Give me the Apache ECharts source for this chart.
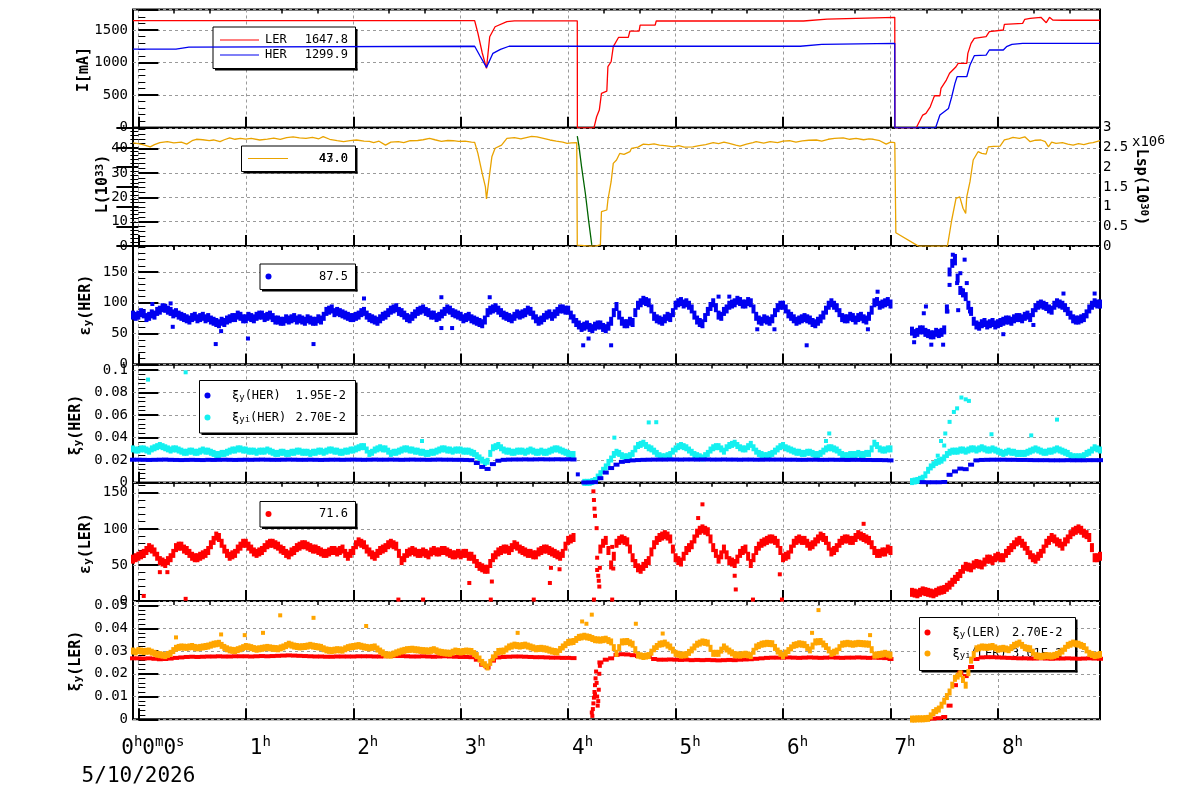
<!DOCTYPE html>
<html><head><meta charset="utf-8">
<script src="https://cdn.jsdelivr.net/npm/echarts@6/dist/echarts.min.js"></script>
<style>html,body{margin:0;padding:0;background:#fff}#c{width:1200px;height:798px}</style>
</head><body><div id="c"></div>
<script>
// ---------------- DATA ----------------
const hourTicks = [0,1,2,3,4,5,6,7,8];
const hourLabels = ['0h0m0s','1h','2h','3h','4h','5h','6h','7h','8h'];
const dateLabel = '5/10/2026';
// sampling grids (hours) for the scatter series: -0.05 .. 8.95 every 0.05 h, and the in-between samples
const timeGrid = Array.from({length:181}, (_, i) => +(-0.05 + i*0.05).toFixed(3));
const timeGridHalf = timeGrid.map(t => +(t + 0.025).toFixed(3));

// I[mA] LER current [h, mA]
const lerCurrent = [[-0.05,1641],[1.5,1642],[3.13,1641],[3.16,1450],[3.2,1150],[3.24,911],[3.27,1396],[3.32,1549],[3.43,1626],[3.5,1640],[4.085,1640],[4.086,0],[4.24,0],[4.265,169],[4.29,272],[4.31,528],[4.36,563],[4.37,936],[4.40,1012],[4.42,1243],[4.47,1387],[4.56,1387],[4.575,1483],[4.66,1483],[4.67,1575],[4.81,1575],[4.82,1637],[6.19,1637],[6.20,1667],[6.41,1667],[6.42,1693],[7.04,1693],[7.041,0],[7.24,0],[7.30,195],[7.33,221],[7.37,322],[7.40,451],[7.41,491],[7.46,491],[7.47,604],[7.52,732],[7.55,835],[7.61,936],[7.63,988],[7.71,988],[7.72,1141],[7.75,1294],[7.78,1371],[7.89,1396],[7.92,1473],[8.05,1499],[8.06,1586],[8.23,1601],[8.25,1663],[8.30,1678],[8.40,1693],[8.45,1611],[8.48,1693],[8.51,1652],[8.6,1648],[8.95,1648]];
// I[mA] HER current [h, mA]
const herCurrent = [[-0.05,1207],[0.35,1207],[0.36,1235],[0.47,1235],[0.48,1245],[3.13,1250],[3.18,1100],[3.24,926],[3.30,1141],[3.37,1202],[3.45,1250],[6.16,1250],[6.17,1279],[6.36,1279],[6.37,1294],[7.04,1294],[7.041,0],[7.42,0],[7.46,195],[7.54,297],[7.57,476],[7.60,681],[7.62,783],[7.71,783],[7.74,962],[7.78,1105],[7.89,1115],[7.92,1192],[8.05,1192],[8.08,1243],[8.13,1279],[8.23,1294],[8.44,1294],[8.45,1270],[8.46,1294],[8.95,1294]];
// L (10^33) [h, value]
const luminosity = [[-0.05,42.3],[0.0,42.0],[0.05,41.5],[0.11,40.7],[0.15,41.6],[0.2,42.4],[0.27,42.8],[0.33,42.3],[0.4,42.6],[0.45,41.8],[0.5,43.2],[0.54,43.8],[0.6,43.6],[0.66,43.2],[0.7,43.5],[0.76,42.8],[0.8,43.6],[0.85,44.4],[0.9,43.8],[0.95,44.2],[1.0,43.9],[1.05,44.2],[1.13,43.5],[1.2,43.9],[1.26,44.3],[1.32,43.8],[1.38,44.5],[1.44,44.8],[1.5,44.4],[1.56,44.2],[1.62,44.6],[1.68,44.0],[1.72,44.9],[1.78,43.8],[1.85,43.2],[1.91,42.8],[1.97,43.2],[2.03,43.5],[2.1,43.0],[2.15,42.9],[2.19,42.4],[2.24,43.0],[2.3,41.4],[2.35,42.6],[2.42,42.8],[2.47,42.4],[2.53,43.2],[2.6,43.3],[2.65,43.6],[2.71,44.2],[2.76,43.6],[2.82,42.9],[2.88,43.3],[2.93,43.2],[2.98,42.9],[3.04,43.0],[3.1,42.6],[3.13,42.5],[3.16,38],[3.2,29.8],[3.23,24.3],[3.24,19.3],[3.27,29.8],[3.29,36.6],[3.32,40.1],[3.38,41.4],[3.43,44.2],[3.5,44.5],[3.56,44.0],[3.62,44.6],[3.66,45.0],[3.71,44.8],[3.77,44.2],[3.83,43.5],[3.89,43.0],[3.95,42.6],[3.99,42.1],[4.03,42.3],[4.08,42.4],[4.085,0.4],[4.15,0.2],[4.2,0.0],[4.25,0.0],[4.3,0.5],[4.31,14.1],[4.36,14.8],[4.37,18.9],[4.40,26.4],[4.42,33.9],[4.45,35.3],[4.48,38.0],[4.52,37.6],[4.575,38.7],[4.59,40.1],[4.65,40.6],[4.70,41.8],[4.75,41.6],[4.8,41.9],[4.85,41.4],[4.9,41.2],[4.98,40.7],[5.03,41.2],[5.08,40.6],[5.16,40.7],[5.22,41.2],[5.28,41.6],[5.35,42.4],[5.4,42.0],[5.45,42.6],[5.5,42.1],[5.56,41.4],[5.6,41.0],[5.66,41.8],[5.72,42.4],[5.75,42.8],[5.82,42.2],[5.88,42.8],[5.95,42.4],[6.0,43.0],[6.06,43.2],[6.12,42.6],[6.18,43.1],[6.24,43.4],[6.31,43.5],[6.36,43.0],[6.42,43.8],[6.48,44.2],[6.56,44.4],[6.62,43.8],[6.68,44.2],[6.75,43.6],[6.8,44.0],[6.84,43.8],[6.9,43.2],[6.96,41.8],[7.0,42.6],[7.04,42.4],[7.05,5.5],[7.26,0],[7.53,0],[7.57,10.7],[7.61,19.6],[7.645,20.2],[7.675,15.5],[7.70,13.4],[7.71,20.2],[7.74,26.4],[7.77,35.3],[7.815,38.7],[7.85,38.0],[7.89,37.7],[7.91,40.7],[7.96,40.9],[8.02,41.0],[8.06,43.5],[8.1,44.0],[8.14,44.6],[8.2,44.2],[8.25,44.8],[8.3,42.8],[8.35,43.4],[8.4,43.5],[8.44,42.8],[8.47,40.7],[8.5,42.6],[8.54,42.1],[8.6,42.4],[8.65,41.8],[8.7,41.4],[8.75,42.0],[8.8,41.6],[8.85,42.2],[8.885,42.4],[8.95,43.2]];
// Lsp (10^30, x10^6) [h, value]
const lspValues = [[4.085,2.79],[4.10,2.55],[4.125,2.01],[4.16,1.34],[4.19,0.66],[4.21,0.24],[4.22,0.03]];

// eps_y(HER) on timeGrid
const emitHER = [80,
 80,82,78,80,88,91,86,84,78,74,76,74,78,76,70,66,68,74,76,78,
 74,76,78,80,78,76,72,70,72,76,74,70,72,70,72,86,90,86,82,78,
 76,80,86,76,72,74,80,88,92,84,76,78,86,90,84,80,78,86,88,82,
 78,76,74,70,66,84,90,88,80,76,78,80,84,86,74,72,80,78,86,90,
 88,74,64,62,60,62,64,58,70,94,70,66,68,96,104,100,78,72,74,76,
 96,102,100,90,72,66,86,100,80,86,96,100,102,98,100,78,70,72,74,92,
 96,82,74,72,76,72,66,74,88,100,92,76,74,76,76,74,78,100,96,100,
 98,null,null,null,54,52,56,50,48,50,56,150,168,120,110,86,64,66,64,68,
 66,70,72,74,76,78,76,92,98,94,88,100,96,86,74,72,76,90,100,98];
// eps_y(HER) on timeGridHalf
const emitHERh = [78,
 84,76,82,86,92,88,82,80,76,72,78,76,74,72,68,70,72,76,80,74,
 78,74,80,76,80,72,70,74,74,72,72,74,70,74,78,88,84,84,80,76,
 78,84,80,74,70,78,84,90,86,80,74,82,88,86,80,76,82,90,84,80,
 74,78,72,68,72,88,92,84,78,74,82,82,88,80,70,76,82,82,90,88,
 80,68,60,64,58,64,60,62,84,80,66,70,84,100,102,90,74,70,78,84,
 100,98,96,80,68,76,94,92,78,90,98,104,98,102,90,72,74,70,84,96,
 90,78,70,74,74,68,70,80,96,96,84,74,78,72,78,72,88,102,98,102,
 null,null,null,null,50,56,52,48,52,52,90,164,140,116,96,70,62,68,66,64,
 68,72,70,76,74,80,84,96,96,90,96,98,92,80,72,74,82,96,98,null];
const emitHERExtra = [[0.13,98],[0.30,99],[0.32,61],[0.72,33],[0.77,54],[1.02,42],[1.63,33],[2.10,107],[2.82,109],[2.82,59],[2.92,59],[3.27,109],[4.14,31],[4.19,42],[4.40,31],[5.40,110],[5.50,110],[5.76,57],[5.92,57],[6.22,31],[6.79,57],[6.88,118],[7.22,36],[7.31,83],[7.33,94],[7.38,32],[7.49,32],[7.53,86],[7.55,129],[7.58,168],[7.58,178],[7.60,176],[7.62,132],[7.63,88],[7.65,148],[7.66,121],[7.69,170],[7.71,132],[7.74,86],[8.05,49],[8.33,64],[8.61,115],[8.90,115]];

// xi_y(HER) on timeGrid
const xiHER = [0.0204,
 0.0204,0.0203,0.0202,0.0203,0.0204,0.0205,0.0203,0.0202,0.0201,0.0202,0.0203,0.0202,0.0201,0.0203,0.0202,0.0203,0.0204,0.0203,0.0202,0.0203,
 0.0204,0.0203,0.0204,0.0205,0.0204,0.0203,0.0203,0.0204,0.0205,0.0204,0.0203,0.0203,0.0204,0.0203,0.0202,0.0203,0.0204,0.0204,0.0203,0.0204,
 0.0205,0.0204,0.0203,0.0204,0.0205,0.0204,0.0204,0.0205,0.0204,0.0203,0.0204,0.0205,0.0204,0.0204,0.0203,0.0204,0.0205,0.0204,0.0204,0.0203,
 0.0203,0.0202,0.0200,0.0175,0.0140,0.0122,0.0165,0.0195,0.0203,0.0205,0.0206,0.0206,0.0207,0.0206,0.0207,0.0208,0.0207,0.0207,0.0208,0.0207,
 0.0208,0.0206,null,0.0002,0.0003,0.0005,0.0040,0.0090,0.0130,0.0160,0.0185,0.0192,0.0198,0.0201,0.0203,0.0204,0.0205,0.0205,0.0205,0.0206,
 0.0206,0.0205,0.0206,0.0206,0.0205,0.0206,0.0206,0.0205,0.0205,0.0206,0.0205,0.0205,0.0204,0.0205,0.0205,0.0204,0.0204,0.0205,0.0205,0.0205,
 0.0205,0.0204,0.0204,0.0203,0.0203,0.0204,0.0204,0.0203,0.0203,0.0204,0.0203,0.0203,0.0202,0.0203,0.0203,0.0202,0.0202,0.0201,0.0201,0.0200,
 0.0198,null,null,null,null,null,0.0005,0.0004,0.0004,0.0004,0.0006,0.0070,0.0100,0.0125,0.0120,0.0160,0.0198,0.0202,0.0203,0.0204,
 0.0204,0.0204,0.0203,0.0203,0.0202,0.0202,0.0201,0.0200,0.0200,0.0200,0.0199,0.0199,0.0199,0.0200,0.0199,0.0199,0.0199,0.0200,0.0200,0.0200];
const xiHERExtra = [[4.09,0.0074]];

// xi_yi(HER) on timeGrid
const xiyiHER = [0.030,
 0.029,0.030,0.028,0.031,0.033,0.031,0.029,0.030,0.028,0.027,0.028,0.027,0.029,0.028,0.026,0.025,0.026,0.028,0.029,0.030,
 0.029,0.028,0.027,0.028,0.029,0.027,0.026,0.027,0.026,0.027,0.028,0.027,0.026,0.027,0.028,0.028,0.029,0.028,0.027,0.028,
 0.029,0.031,0.032,0.026,0.029,0.031,0.030,0.026,0.027,0.029,0.030,0.029,0.028,0.027,0.026,0.027,0.029,0.030,0.029,0.029,
 0.029,0.028,0.027,0.024,0.020,0.019,0.031,0.033,0.029,0.028,0.027,0.028,0.027,0.029,0.027,0.028,0.027,0.029,0.030,0.028,
 0.026,0.025,null,0.0003,0.0003,0.002,0.008,0.014,0.021,0.027,0.024,0.023,0.026,0.033,0.035,0.031,0.028,0.024,0.023,0.025,
 0.030,0.033,0.031,0.027,0.024,0.022,0.026,0.031,0.032,0.028,0.033,0.035,0.031,0.030,0.034,0.028,0.025,0.024,0.026,0.030,
 0.033,0.030,0.028,0.027,0.026,0.027,0.025,0.026,0.030,0.031,0.029,0.025,0.024,0.025,0.026,0.025,0.026,0.035,0.030,0.029,
 0.030,null,null,null,0.001,0.002,0.004,0.011,0.016,0.019,0.022,0.027,0.028,0.029,0.028,0.030,0.029,0.031,0.029,0.030,
 0.028,0.026,0.028,0.027,0.026,0.026,0.028,0.030,0.028,0.027,0.028,0.030,0.028,0.026,0.023,0.023,0.024,0.027,0.031,0.029];
// xi_yi(HER) on timeGridHalf
const xiyiHERh = [0.029,
 0.030,0.029,0.030,0.032,0.032,0.030,0.030,0.029,0.027,0.028,0.027,0.028,0.028,0.027,0.025,0.026,0.027,0.029,0.030,0.029,
 0.028,0.028,0.028,0.028,0.028,0.026,0.027,0.026,0.027,0.028,0.027,0.027,0.027,0.028,0.027,0.029,0.028,0.027,0.028,0.029,
 0.030,0.032,0.029,0.027,0.030,0.030,0.028,0.027,0.028,0.030,0.029,0.028,0.027,0.026,0.027,0.028,0.030,0.029,0.028,0.029,
 0.028,0.028,0.026,0.022,0.018,0.026,0.032,0.031,0.028,0.027,0.028,0.028,0.028,0.028,0.027,0.027,0.028,0.030,0.029,0.027,
 0.025,null,null,0.0003,0.001,0.005,0.011,0.018,0.025,0.026,0.023,0.024,0.030,0.034,0.033,0.030,0.026,0.023,0.024,0.028,
 0.032,0.032,0.029,0.025,0.023,0.024,0.029,0.032,0.030,0.031,0.034,0.033,0.030,0.032,0.031,0.026,0.024,0.025,0.028,0.032,
 0.031,0.029,0.027,0.026,0.027,0.026,0.025,0.028,0.031,0.030,0.027,0.024,0.025,0.025,0.025,0.026,0.030,0.033,0.029,0.030,
 null,null,null,null,0.0015,0.003,0.007,0.014,0.018,0.020,0.025,0.028,0.028,0.029,0.029,0.030,0.030,0.030,0.029,0.029,
 0.027,0.027,0.027,0.026,0.026,0.027,0.029,0.029,0.027,0.028,0.029,0.029,0.027,0.024,0.023,0.023,0.026,0.029,0.030,null];
const xiyiHERExtra = [[0.09,0.0915],[0.44,0.098],[2.64,0.037],[4.43,0.040],[4.75,0.0535],[4.82,0.0537],[6.40,0.037],[6.43,0.0437],[7.44,0.024],[7.47,0.037],[7.50,0.033],[7.51,0.0437],[7.55,0.054],[7.59,0.0628],[7.62,0.066],[7.66,0.0756],[7.70,0.074],[7.73,0.0726],[7.94,0.043],[8.31,0.042],[8.55,0.056]];

// eps_y(LER) on timeGrid
const emitLER = [58,
 62,66,74,68,56,52,60,74,76,70,62,60,64,70,84,88,72,62,66,76,
 80,72,66,70,78,80,76,70,64,70,76,78,74,72,68,66,70,68,72,62,
 70,82,78,68,62,70,74,80,76,56,66,70,66,68,64,70,68,70,66,64,
 64,66,62,52,46,44,60,68,72,70,78,72,68,66,64,70,72,68,64,66,
 84,88,null,null,null,null,72,84,50,80,86,82,60,46,48,56,78,88,92,86,
 60,54,70,78,94,100,96,74,58,72,56,52,66,72,52,70,80,84,86,80,
 60,64,80,86,84,76,82,90,84,68,74,84,86,84,92,88,84,70,66,68,
 70,null,null,null,12,10,14,12,10,14,16,22,30,38,48,46,52,50,58,56,
 62,60,70,78,84,76,64,58,66,80,88,82,76,86,96,100,94,88,60,62];
// eps_y(LER) on timeGridHalf
const emitLERh = [60,
 64,70,72,62,54,56,66,76,72,66,60,62,66,78,90,80,66,64,72,80,
 76,68,68,74,80,78,72,66,68,74,78,76,72,70,66,68,70,70,66,66,
 78,80,72,64,66,72,78,78,66,60,68,68,66,66,68,68,70,68,64,66,
 66,62,58,48,44,52,64,70,72,74,76,70,66,64,68,72,70,66,62,76,
 86,null,null,null,null,null,80,70,62,84,84,72,52,44,52,68,84,90,90,72,
 56,62,74,86,98,98,86,66,64,64,54,58,70,62,60,76,82,86,84,70,
 62,72,84,84,80,78,86,88,76,70,80,86,84,88,90,86,78,66,68,72,
 null,null,null,null,11,12,13,11,12,15,19,26,34,44,47,50,51,54,58,60,
 60,66,74,82,80,70,60,62,72,84,86,80,82,92,98,98,92,74,60,null];
const emitLERExtra = [[0.05,7],[0.20,40],[0.27,40],[0.44,3],[2.42,2],[2.65,2],[3.08,25],[3.28,2],[3.29,27],[3.68,2],[3.83,25],[3.84,46],[3.92,44],[4.235,152],[4.24,140],[4.245,128],[4.25,118],[4.24,2],[4.265,101],[4.27,60],[4.27,43],[4.28,35],[4.285,28],[4.29,20],[4.295,46],[4.41,75],[4.41,2],[4.42,45],[5.21,115],[5.25,134],[5.55,35],[5.56,16],[5.72,2],[5.97,37],[5.99,2],[6.75,107]];

// xi_y(LER) on timeGrid
const xiLER = [0.0268,
 0.0268,0.0267,0.0268,0.0266,0.0264,0.0265,0.0267,0.0270,0.0272,0.0274,0.0275,0.0274,0.0275,0.0276,0.0276,0.0277,0.0276,0.0276,0.0277,0.0277,
 0.0277,0.0276,0.0277,0.0278,0.0277,0.0278,0.0279,0.0280,0.0281,0.0280,0.0279,0.0278,0.0277,0.0276,0.0276,0.0275,0.0275,0.0276,0.0276,0.0276,
 0.0276,0.0277,0.0277,0.0277,0.0276,0.0276,0.0277,0.0278,0.0278,0.0278,0.0277,0.0276,0.0276,0.0277,0.0276,0.0275,0.0276,0.0277,0.0276,0.0275,
 0.0274,0.0274,0.0273,0.0262,0.0240,0.0228,0.0258,0.0272,0.0274,0.0275,0.0276,0.0276,0.0275,0.0274,0.0273,0.0273,0.0272,0.0271,0.0271,0.0270,
 0.0270,0.0269,null,null,null,null,0.0250,0.0262,0.0268,0.0283,0.0286,0.0285,0.0282,0.0278,0.0276,0.0274,0.0265,0.0262,0.0262,0.0263,
 0.0262,0.0261,0.0262,0.0260,0.0261,0.0260,0.0261,0.0260,0.0259,0.0260,0.0261,0.0260,0.0262,0.0263,0.0264,0.0266,0.0268,0.0270,0.0271,0.0271,
 0.0271,0.0272,0.0271,0.0270,0.0271,0.0272,0.0271,0.0270,0.0271,0.0272,0.0271,0.0270,0.0271,0.0271,0.0272,0.0271,0.0270,0.0271,0.0270,0.0269,
 0.0265,null,null,null,null,0.0001,0.0001,0.0002,0.0003,0.0005,0.0010,0.0060,0.0150,0.0205,0.0190,0.0230,0.0265,0.0272,0.0273,0.0273,
 0.0272,0.0271,0.0270,0.0269,0.0268,0.0268,0.0267,0.0267,0.0268,0.0267,0.0266,0.0267,0.0267,0.0268,0.0267,0.0266,0.0267,0.0268,0.0267,0.0266];
const xiLERExtra = [[4.22,0.0030],[4.225,0.0015],[4.23,0.0045],[4.235,0.0070],[4.24,0.0095],[4.245,0.0120],[4.25,0.0150],[4.25,0.0110],[4.255,0.0180],[4.26,0.0210],[4.265,0.0160],[4.27,0.0100],[4.275,0.0060],[4.28,0.0080],[4.285,0.0130],[4.29,0.0200],[4.295,0.0235]];

// xi_yi(LER) on timeGrid
const xiyiLER = [0.0300,
 0.0302,0.0298,0.0300,0.0290,0.0284,0.0280,0.0290,0.0312,0.0318,0.0316,0.0320,0.0314,0.0318,0.0322,0.0330,0.0334,0.0316,0.0305,0.0302,0.0310,
 0.0320,0.0315,0.0308,0.0312,0.0316,0.0312,0.0310,0.0318,0.0330,0.0322,0.0318,0.0320,0.0325,0.0320,0.0316,0.0305,0.0302,0.0306,0.0304,0.0315,
 0.0320,0.0324,0.0318,0.0314,0.0318,0.0300,0.0284,0.0282,0.0292,0.0300,0.0306,0.0308,0.0305,0.0302,0.0300,0.0306,0.0296,0.0292,0.0290,0.0300,
 0.0296,0.0300,0.0298,0.0280,0.0250,0.0230,0.0270,0.0298,0.0300,0.0318,0.0326,0.0322,0.0326,0.0318,0.0310,0.0312,0.0308,0.0300,0.0296,0.0318,
 0.0338,0.0342,0.0360,0.0365,0.0360,0.0350,0.0348,0.0352,0.0340,0.0290,0.0340,0.0342,0.0330,0.0282,0.0276,0.0280,0.0310,0.0330,0.0335,0.0318,
 0.0290,0.0282,0.0284,0.0305,0.0330,0.0340,0.0335,0.0290,0.0290,0.0318,0.0300,0.0284,0.0282,0.0286,0.0280,0.0318,0.0330,0.0334,0.0332,0.0300,
 0.0280,0.0302,0.0325,0.0332,0.0328,0.0305,0.0340,0.0342,0.0320,0.0290,0.0300,0.0330,0.0334,0.0330,0.0334,0.0332,0.0330,0.0282,0.0285,0.0290,
 0.0282,null,null,null,0.0001,0.0002,0.0002,0.0004,0.0030,0.0045,0.0080,0.0120,0.0180,0.0200,0.0150,0.0260,0.0310,0.0318,0.0316,0.0320,
 0.0308,0.0312,0.0306,0.0325,0.0335,0.0315,0.0310,0.0280,0.0276,0.0280,0.0278,0.0285,0.0300,0.0325,0.0335,0.0330,0.0320,0.0290,0.0280,0.0285];
// xi_yi(LER) on timeGridHalf
const xiyiLERh = [0.0296,
 0.0300,0.0299,0.0295,0.0286,0.0282,0.0285,0.0302,0.0316,0.0317,0.0318,0.0316,0.0316,0.0320,0.0326,0.0332,0.0325,0.0310,0.0303,0.0306,0.0315,
 0.0318,0.0311,0.0310,0.0314,0.0314,0.0311,0.0314,0.0324,0.0326,0.0320,0.0319,0.0322,0.0322,0.0318,0.0310,0.0303,0.0304,0.0305,0.0310,0.0318,
 0.0322,0.0321,0.0316,0.0316,0.0309,0.0292,0.0283,0.0287,0.0296,0.0303,0.0307,0.0306,0.0303,0.0301,0.0303,0.0301,0.0294,0.0291,0.0295,0.0298,
 0.0298,0.0299,0.0289,0.0265,0.0240,0.0250,0.0284,0.0299,0.0309,0.0322,0.0324,0.0324,0.0322,0.0314,0.0311,0.0310,0.0304,0.0298,0.0307,0.0328,
 0.0340,0.0351,0.0362,0.0362,0.0355,0.0349,0.0350,0.0346,0.0315,0.0315,0.0341,0.0336,0.0306,0.0279,0.0278,0.0295,0.0320,0.0332,0.0326,0.0304,
 0.0286,0.0283,0.0294,0.0318,0.0335,0.0338,0.0312,0.0290,0.0304,0.0309,0.0292,0.0283,0.0284,0.0283,0.0299,0.0324,0.0332,0.0333,0.0316,0.0290,
 0.0291,0.0314,0.0328,0.0330,0.0316,0.0322,0.0341,0.0331,0.0305,0.0295,0.0315,0.0332,0.0332,0.0332,0.0333,0.0331,0.0306,0.0283,0.0287,0.0286,
 null,null,null,null,0.0001,0.0002,0.0003,0.0015,0.0038,0.0062,0.0100,0.0150,0.0190,0.0175,0.0205,0.0285,0.0314,0.0317,0.0318,0.0314,
 0.0310,0.0309,0.0315,0.0330,0.0325,0.0312,0.0295,0.0278,0.0278,0.0279,0.0281,0.0292,0.0312,0.0330,0.0332,0.0325,0.0305,0.0285,0.0282,null];
const xiyiLERExtra = [[0.35,0.036],[0.77,0.0373],[0.99,0.037],[1.16,0.038],[1.32,0.0457],[1.63,0.0446],[2.12,0.041],[3.53,0.038],[4.13,0.043],[4.17,0.042],[4.22,0.046],[4.63,0.042],[4.88,0.0377],[6.27,0.038],[6.33,0.048],[6.81,0.037]];

// legend values
const legendValues = {ler:'1647.8', her:'1299.9', lum:'43.0', lumB:'47.0', emitHER:'87.5', xiHER:'1.95E-2', xiyiHER:'2.70E-2', emitLER:'71.6', xiLER:'2.70E-2', xiyiLER:'3.01E-2'};

// ---------------- CHART ----------------
const FONT = 'DejaVu Sans Mono';
const RED = '#ff0000', BLUE = '#0000f0', CYAN = '#14f0f0', ORANGE = '#ffa500', LUMC = '#e9a300', GREEN = '#006400';
const X_MIN = -0.05, X_MAX = 8.95;
const GL = 133, GR = 100, T0 = 9.5, PH = 118.3;
const minorTicks = [];
hourTicks.forEach(h => { minorTicks.push(h + 1/3, h + 2/3); });

function pts(vals, grid, vals2, grid2) {
  const out = [];
  vals.forEach((v, i) => { if (v !== null) out.push([grid[i], v]); });
  if (vals2) vals2.forEach((v, i) => { if (v !== null) out.push([grid2[i], v]); });
  return out;
}

const yCfg = [
  {max:1813, interval:500},
  {max:48.5, interval:10},
  {max:192, interval:50},
  {max:0.105, interval:0.02},
  {max:164, interval:50},
  {max:0.052, interval:0.01}
];
const plainNum = v => String(+(+v).toPrecision(8));

const grids = [], xAxes = [], yAxes = [];
const yIdx = [];
for (let i = 0; i < 6; i++) {
  grids.push({left:GL, right:GR, top:T0 + i*PH, height:PH, show:true, borderColor:'#000', borderWidth:2,
    backgroundColor:'rgba(0,0,0,0)', containLabel:false, outerBoundsMode:'none'});
  const last = i === 5;
  xAxes.push({type:'value', gridIndex:i, min:X_MIN, max:X_MAX, splitNumber:9,
    axisLine:{show:false},
    axisTick:{show:true, inside:true, length:11, customValues:hourTicks, lineStyle:{color:'#000', width:2}},
    axisLabel: last ? {show:true, customValues:hourTicks, margin:16, hideOverlap:false, color:'#000', fontFamily:FONT,
      formatter: function (v) {
        const idx = hourTicks.indexOf(v);
        const s = hourLabels[idx] || '';
        let first = true;
        return s.replace(/(\d+)([a-z])/g, (m, d, u) => { const k = first ? 'a' : 'n'; first = false; return '{' + k + '|' + d + '}{s|' + u + '}'; });
      },
      rich:{
        a:{fontSize:21, lineHeight:26, fontFamily:FONT, color:'#000', verticalAlign:'middle', padding:[0,0,0,29]},
        n:{fontSize:21, lineHeight:26, fontFamily:FONT, color:'#000', verticalAlign:'middle'},
        s:{fontSize:14, lineHeight:8, fontFamily:FONT, color:'#000', verticalAlign:'top'}
      }} : {show:false},
    splitLine:{show:true, lineStyle:{color:'#9a9a9a', type:[3,3], width:1}}
  });
  xAxes.push({type:'value', gridIndex:i, min:X_MIN, max:X_MAX, splitNumber:9,
    axisLine:{show:false},
    axisTick:{show:true, inside:true, length:4, customValues:minorTicks, lineStyle:{color:'#000', width:1.5}},
    axisLabel:{show:false}, splitLine:{show:false}});
  yIdx.push(yAxes.length);
  yAxes.push({type:'value', gridIndex:i, min:0, max:yCfg[i].max, interval:yCfg[i].interval, position:'left',
    axisLine:{show:false},
    axisTick:{show:true, inside:true, length:20, lineStyle:{color:'#000', width:2}},
    minorTick:{show:true, splitNumber:5, length:7, lineStyle:{color:'#000', width:1}},
    axisLabel:{show:true, fontFamily:FONT, fontSize:14, color:'#000', margin:5, showMaxLabel:false, hideOverlap:false, formatter:plainNum},
    splitLine:{show:true, lineStyle:{color:'#9a9a9a', type:[3,3], width:1}}
  });
  if (i === 1) {
    yAxes.push({type:'value', gridIndex:1, min:0, max:3, interval:0.5, position:'right',
      axisLine:{show:false},
      axisTick:{show:true, inside:true, length:22, lineStyle:{color:'#000', width:2}},
      minorTick:{show:true, splitNumber:5, length:8, lineStyle:{color:'#000', width:1}},
      axisLabel:{show:true, fontFamily:FONT, fontSize:14, color:'#000', margin:3, hideOverlap:false, formatter:plainNum},
      splitLine:{show:false}});
  }
}
const lspAxis = 2;

function lineS(name, data, xi, yi, color, w) {
  return {name, type:'line', xAxisIndex:xi, yAxisIndex:yi, data, showSymbol:false, symbol:'none',
    lineStyle:{color, width:w || 1.2}, itemStyle:{color}, z:2, animation:false};
}
function scat(name, data, xi, yi, color, size) {
  return {name, type:'scatter', xAxisIndex:xi, yAxisIndex:yi, data, symbol:'rect', symbolSize:size,
    itemStyle:{color, opacity:1}, z:2, animation:false, large:false, clip:true};
}
const OUT = [4, 4];

const series = [
  lineS('LER', lerCurrent, 0, yIdx[0], RED, 1.3),
  lineS('HER', herCurrent, 0, yIdx[0], BLUE, 1.3),
  lineS('L', luminosity, 2, yIdx[1], LUMC, 1.3),
  lineS('Lsp', lspValues, 2, lspAxis, GREEN, 1.3),
  scat('epsHER', pts(emitHER, timeGrid, emitHERh, timeGridHalf), 4, yIdx[2], BLUE, [4,9]),
  scat('epsHERout', emitHERExtra, 4, yIdx[2], BLUE, OUT),
  scat('xiyiHER', pts(xiyiHER, timeGrid, xiyiHERh, timeGridHalf), 6, yIdx[3], CYAN, [4,7]),
  scat('xiyiHERout', xiyiHERExtra, 6, yIdx[3], CYAN, OUT),
  scat('xiHER', pts(xiHER, timeGrid), 6, yIdx[3], BLUE, [6,4]),
  scat('xiHERout', xiHERExtra, 6, yIdx[3], BLUE, OUT),
  scat('epsLER', pts(emitLER, timeGrid, emitLERh, timeGridHalf), 8, yIdx[4], RED, [4,9]),
  scat('epsLERout', emitLERExtra, 8, yIdx[4], RED, OUT),
  scat('xiLER', pts(xiLER, timeGrid), 10, yIdx[5], RED, [6,4]),
  scat('xiLERout', xiLERExtra, 10, yIdx[5], RED, OUT),
  scat('xiyiLER', pts(xiyiLER, timeGrid, xiyiLERh, timeGridHalf), 10, yIdx[5], ORANGE, [4,7]),
  scat('xiyiLERout', xiyiLERExtra, 10, yIdx[5], ORANGE, OUT)
];

// ---------- graphic: legends & titles ----------
const G = [];
function box(x1, y1, x2, y2) {
  G.push({type:'rect', z:1, shape:{x:x2, y:y1+2, width:2, height:y2-y1}, style:{fill:'#000'}});
  G.push({type:'rect', z:1, shape:{x:x1+2, y:y2, width:x2-x1, height:2}, style:{fill:'#000'}});
  G.push({type:'rect', z:1, shape:{x:x1, y:y1, width:x2-x1, height:y2-y1}, style:{fill:'#fff', stroke:'#000', lineWidth:1}});
}
const subRich = {sub:{fontSize:9, lineHeight:4, verticalAlign:'bottom', fontFamily:FONT, fill:'#000'}};
function txt(x, y, s, align, size, extra) {
  G.push(Object.assign({type:'text', z:1, x, y, style:{text:s, fontFamily:FONT, fontSize:size || 12, fill:'#000',
    align:align || 'left', verticalAlign:'middle', lineHeight:14, rich:subRich}}, extra || {}));
}
function seg(x1, x2, y, color) { G.push({type:'line', z:1, shape:{x1, y1:y, x2, y2:y}, style:{stroke:color, lineWidth:1.2}}); }
function dot(x, y, color) { G.push({type:'circle', z:1, shape:{cx:x, cy:y, r:3}, style:{fill:color}}); }

// panel 1 legend
box(213, 27, 355.5, 68.5);
seg(220, 259, 40, RED); txt(265, 40, 'LER'); txt(348, 40, legendValues.ler, 'right');
seg(220, 259, 55, BLUE); txt(265, 55, 'HER'); txt(348, 55, legendValues.her, 'right');
// panel 2 legend
box(241.5, 146, 355.5, 171.5);
seg(248, 288, 158.5, LUMC); txt(348, 158.5, legendValues.lumB, 'right'); txt(348, 158.5, legendValues.lum, 'right');
// panel 3 legend
box(260, 264, 355.5, 289.5);
dot(268.5, 276.5, BLUE); txt(348, 276.5, legendValues.emitHER, 'right');
// panel 4 legend
box(199.5, 380.5, 355.5, 433);
dot(207.5, 395.5, BLUE); txt(232, 395.5, 'ξ{sub|y}(HER)'); txt(346, 395.5, legendValues.xiHER, 'right');
dot(207.5, 417.5, CYAN); txt(232, 417.5, 'ξ{sub|yi}(HER)'); txt(346, 417.5, legendValues.xiyiHER, 'right');
// panel 5 legend
box(260, 501.5, 355.5, 527);
dot(268.5, 514, RED); txt(348, 514, legendValues.emitLER, 'right');
// panel 6 legend
box(919.5, 617.5, 1075.5, 670.5);
dot(927.5, 632.5, RED); txt(952.5, 632.5, 'ξ{sub|y}(LER)'); txt(1062.5, 632.5, legendValues.xiLER, 'right');
dot(927.5, 653.5, ORANGE); txt(952.5, 653.5, 'ξ{sub|yi}(LER)'); txt(1062.5, 653.5, legendValues.xiyiLER, 'right');

// axis titles
const titleRich = {
  sub:{fontSize:11, lineHeight:4, verticalAlign:'bottom', fontFamily:FONT, fontWeight:'bold', fill:'#000'},
  sup:{fontSize:11, lineHeight:4, verticalAlign:'top', fontFamily:FONT, fontWeight:'bold', fill:'#000'}
};
function title(x, y, s, rot) {
  G.push({type:'text', x, y, rotation:rot, style:{text:s, fontFamily:FONT, fontSize:15, fontWeight:'bold', fill:'#000',
    align:'center', verticalAlign:'middle', lineHeight:16, rich:titleRich}});
}
title(84, 69.5, 'I[mA]', Math.PI/2);
title(103, 184, 'L(10{sup|33})', Math.PI/2);
title(86, 305, 'ε{sub|y}(HER)', Math.PI/2);
title(76, 425, 'ξ{sub|y}(HER)', Math.PI/2);
title(86, 543.5, 'ε{sub|y}(LER)', Math.PI/2);
title(76, 661, 'ξ{sub|y}(LER)', Math.PI/2);
title(1141, 187, 'Lsp(10{sup|30})', -Math.PI/2);
G.push({type:'text', x:1132, y:142, style:{text:'x10{sup|6}', fontFamily:FONT, fontSize:14, fill:'#000', align:'left', verticalAlign:'middle',
  lineHeight:16, rich:{sup:{fontSize:13, lineHeight:4, verticalAlign:'top', fontFamily:FONT, fill:'#000'}}}});
G.push({type:'text', x:138.5, y:777, style:{text:dateLabel, fontFamily:FONT, fontSize:21, fill:'#000', align:'center', verticalAlign:'middle'}});

const chart = echarts.init(document.getElementById('c'), null, {renderer:'canvas'});
chart.setOption({
  animation:false,
  backgroundColor:'#fff',
  textStyle:{fontFamily:FONT},
  grid:grids, xAxis:xAxes, yAxis:yAxes, series, graphic:G
});
</script></body></html>
